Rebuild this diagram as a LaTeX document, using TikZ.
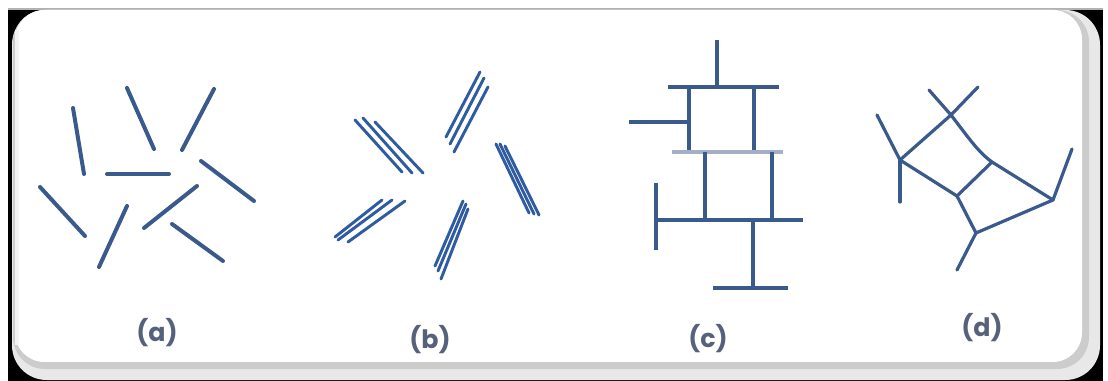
\documentclass[tikz,border=0pt]{standalone}
\usepackage{fontspec}
\setmainfont{Poppins}
\begin{document}
\begin{tikzpicture}[x=0.75pt,y=-0.75pt,
  rod/.style={line width=3pt,color=rodblue,line cap=round},
  thin rod/.style={line width=2.2pt,color=rodblue2,line cap=round},
  net/.style={line width=2.4pt,color=rodblue,line cap=round,line join=round},
  caption/.style={font=\fontsize{19}{19}\selectfont\bfseries,text=capgray,inner sep=0pt}]
\definecolor{rodblue}{HTML}{3A5A8C}
\definecolor{rodblue2}{HTML}{2F5CA0}
\definecolor{lightrod}{HTML}{A3AFC4}
\definecolor{capgray}{HTML}{56617A}
\useasboundingbox (0,0) rectangle (1108,381);
% frame: dark backing, soft grey shadow, white rounded panel
\fill[black] (8,8) rectangle (1103,381);
\fill[gray!60] (8,8) rectangle (1103,10);
\fill[gray!18] (12,10) [rounded corners=26pt] -- (12,380) -- (1100,380) -- (1100,10) -- cycle;
\fill[gray!40] (13,10) [rounded corners=24pt] -- (13,369) -- (1089,369) -- (1089,10) -- cycle;
\fill[white] (15,10) [rounded corners=22pt] -- (15,362) -- (1082,362) -- (1082,10) -- cycle;
\fill[gray!10] (15,30) rectangle (19,345);

% (a) scattered single rods
\draw[rod] (73,108) -- (84,174);
\draw[rod] (127,88) -- (154,149);
\draw[rod] (214,89) -- (182,150);
\draw[rod] (107,174) -- (169,174);
\draw[rod] (201,161) -- (254,201);
\draw[rod] (40,187) -- (85,236);
\draw[rod] (127,206) -- (99,267);
\draw[rod] (197,186) -- (144,228);
\draw[rod] (172,224) -- (223,261);
\node[caption] (la) at (157,333) {(a)};

% (b) bundles of parallel rods
\draw[thin rod] (355,120) -- (402,172);
\draw[thin rod] (363,118) -- (412,173);
\draw[thin rod] (375,122) -- (423,173);
\draw[thin rod] (446,137) -- (480,72);
\draw[thin rod] (450,144) -- (484,78);
\draw[thin rod] (454,152) -- (488,87);
\draw[thin rod] (496,144) -- (529,213);
\draw[thin rod] (500,144) -- (534,214);
\draw[thin rod] (505,146) -- (539,215);
\draw[thin rod] (335,237) -- (382,200);
\draw[thin rod] (338,240) -- (392,200);
\draw[thin rod] (348,242) -- (405,201);
\draw[thin rod] (435,266) -- (463,201);
\draw[thin rod] (438,271) -- (466,204);
\draw[thin rod] (441,279) -- (468,209);
\node[caption] (lb) at (430,340) {(b)};

% (c) ladder-like network
\draw[rod,line cap=butt] (717,40) -- (717,87);
\draw[rod,line cap=butt] (668,87) -- (779,87);
\draw[rod,line cap=butt] (689,87) -- (689,151);
\draw[rod,line cap=butt] (754,87) -- (754,151);
\draw[rod,line cap=butt] (629,122) -- (689,122);
\draw[line width=3pt,color=lightrod] (672,152) -- (783,152);
\draw[rod,line cap=butt] (705,152) -- (705,220);
\draw[rod,line cap=butt] (772,152) -- (772,220);
\draw[rod,line cap=butt] (656,220) -- (803,220);
\draw[rod,line cap=butt] (656,183) -- (656,250);
\draw[rod,line cap=butt] (753,220) -- (753,288);
\draw[rod,line cap=butt] (713,288) -- (788,288);
\node[caption] (lc) at (708,339) {(c)};

% (d) branched ring network
\coordinate (dA) at (900,160);
\coordinate (dB) at (951,115);
\coordinate (dC) at (992,162);
\coordinate (dD) at (957,196);
\coordinate (dE) at (976,233);
\coordinate (dF) at (1053,200);
\draw[net] (dA) -- (877,115);
\draw[net] (dA) -- (900,202);
\draw[net] (dA) -- (dB);
\draw[net] (dB) -- (978,87);
\draw[net] (dB) -- (929,90);
\draw[net] (dB) .. controls (968,137) and (978,152) .. (dC) -- (dF);
\draw[net] (dC) -- (dD);
\draw[net] (dA) -- (dD);
\draw[net] (dD) -- (dE);
\draw[net] (dE) -- (dF);
\draw[net] (dF) -- (1072,149);
\draw[net] (dE) -- (957,270);
\node[caption] (ld) at (982,328) {(d)};
\end{tikzpicture}
\end{document}
